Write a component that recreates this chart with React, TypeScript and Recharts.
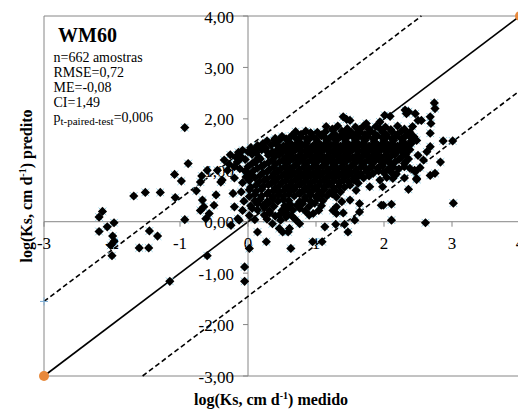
import { ScatterChart, Scatter, XAxis, YAxis, ReferenceLine, ReferenceDot } from 'recharts';

// axis ticks (crossing at the origin)
const xTicks = [-3, -2, -1, 0, 1, 2, 3, 4];
const xTickLabels = ['-3', '-2', '-1', '0', '1', '2', '3', '4'];
const yTicks = [4, 3, 2, 1, 0, -1, -2, -3];
const yTickLabels = ['4,00', '3,00', '2,00', '1,00', '0,00', '-1,00', '-2,00', '-3,00'];

// offset of the dashed confidence lines around the 1:1 line
const ciOffset = 1.45;

const leftOutliers: [number, number][] = [
    [-0.93, 1.83], [-0.88, 1.13], [-1.08, 0.92], [-0.98, 0.79], [-0.68, 0.89], [-0.70, 0.77],
    [-0.76, 0.60], [-1.68, 0.50], [-1.51, 0.57], [-1.29, 0.57], [-1.07, 0.47], [-2.14, 0.20],
    [-2.19, 0.09], [-1.97, -0.02], [-2.07, -0.10], [-2.19, -0.19], [-1.99, -0.28], [-1.97, -0.38],
    [-2.00, -0.66], [-1.45, -0.18], [-1.33, -0.28], [-1.60, -0.51], [-1.46, -0.51], [-0.93, 0.04],
    [-0.60, -0.66], [-1.15, -1.16], [-0.67, 0.42], [-0.65, 0.29], [-0.70, 0.22], [-0.57, 0.16],
    [-0.62, 0.06], [-0.50, 0.32], [-0.47, 0.52], [-0.35, 1.20], [-0.38, 0.81], [-0.30, 1.00],
    [-0.22, 0.55], [-0.20, 0.29], [-0.25, -0.07], [-0.15, 0.06], [-2.02, -0.46],
];

const lowOutliers: [number, number][] = [
    [-0.05, -0.88], [-0.05, -1.16], [0.02, -0.52], [0.14, -0.20], [0.27, -0.39], [0.63, -0.52],
    [0.95, -0.39], [1.09, -0.39], [0.51, -0.20], [0.59, -0.20], [1.13, -0.10], [1.29, -0.05],
    [1.42, -0.05], [1.47, -0.20], [1.57, 0.03], [1.64, 0.19], [2.11, 0.03], [2.61, -0.02],
    [3.02, 0.36], [1.99, 0.32], [2.11, 0.34], [0.36, -0.04], [0.46, 0.13], [0.56, 0.13],
    [0.76, -0.04], [1.30, 0.16], [1.40, 0.17], [-0.13, 0.03], [0.56, 0.09], [0.46, -0.13], [0.61, -0.13],
];

const rightOutliers: [number, number][] = [
    [2.74, 2.31], [2.75, 2.20], [2.87, 1.57], [3.01, 1.57], [2.83, 1.16], [2.75, 0.94],
    [2.68, 0.90], [2.48, 0.84], [2.36, 0.63], [2.68, 1.46], [2.68, 1.72], [2.69, 1.91],
    [2.68, 2.04], [2.55, 1.97], [2.46, 2.10], [2.36, 2.14], [2.63, 1.36], [2.58, 1.20],
    [2.53, 1.05], [2.46, 0.97],
];

const cloudEdges: [number, number][] = [
    [1.45, 1.99], [1.25, 1.78], [1.74, 1.91], [1.94, 1.94], [2.09, 2.05], [2.33, 2.10],
    [2.50, 1.97], [1.40, 2.04], [1.50, 1.97], [0.92, 1.73], [0.39, 1.59], [2.01, 2.07],
    [2.31, 2.17], [2.48, 1.58], [2.50, 1.29], [2.45, 1.00], [2.48, 0.82], [2.13, 0.84],
    [1.94, 0.81], [1.77, 1.02], [1.79, 0.68], [1.64, 0.35], [1.50, 0.42], [1.30, 0.29],
    [1.25, 0.22], [1.96, 0.32], [1.59, 0.61], [0.19, 1.46], [-0.18, 1.26], [0.00, 1.36],
    [0.09, 1.39], [-0.60, 1.00], [-0.45, 1.00], [-0.40, 0.77], [-0.20, 1.07], [-0.03, 0.87],
    [-0.13, 1.20], [0.11, 1.16], [0.26, 1.39],
];

const cloudCore: [number, number][] = [
    [1.15, 1.85], [1.32, 1.86], [1.58, 1.84], [1.70, 1.86], [1.88, 1.85], [2.02, 1.84], [2.20, 1.86], [2.42, 1.85],
    [0.70, 1.75], [0.85, 1.76], [1.02, 1.74], [1.14, 1.75], [1.38, 1.76], [1.52, 1.74], [1.64, 1.75], [1.80, 1.76],
    [1.98, 1.74], [2.12, 1.75], [2.26, 1.76], [2.38, 1.74],
    [0.50, 1.66], [0.64, 1.67], [0.78, 1.65], [0.94, 1.66], [1.08, 1.67], [1.22, 1.65], [1.36, 1.66], [1.48, 1.67],
    [1.62, 1.65], [1.76, 1.66], [1.90, 1.67], [2.04, 1.65], [2.18, 1.66], [2.32, 1.67], [2.44, 1.65],
    [0.28, 1.57], [0.46, 1.58], [0.60, 1.56], [0.74, 1.57], [0.88, 1.58], [1.02, 1.56], [1.16, 1.57], [1.30, 1.58],
    [1.44, 1.56], [1.58, 1.57], [1.72, 1.58], [1.86, 1.56], [2.00, 1.57], [2.14, 1.58], [2.28, 1.56], [2.40, 1.57],
    [0.14, 1.48], [0.34, 1.49], [0.52, 1.47], [0.66, 1.48], [0.80, 1.49], [0.95, 1.47], [1.08, 1.48], [1.22, 1.49],
    [1.36, 1.47], [1.50, 1.48], [1.64, 1.49], [1.78, 1.47], [1.92, 1.48], [2.06, 1.49], [2.20, 1.47], [2.34, 1.48],
    [-0.08, 1.39], [0.20, 1.40], [0.42, 1.38], [0.56, 1.39], [0.70, 1.40], [0.84, 1.38], [0.98, 1.39], [1.12, 1.40],
    [1.26, 1.38], [1.40, 1.39], [1.54, 1.40], [1.68, 1.38], [1.82, 1.39], [1.96, 1.40], [2.10, 1.38], [2.24, 1.39], [2.38, 1.40],
    [-0.26, 1.30], [0.06, 1.31], [0.30, 1.29], [0.46, 1.30], [0.62, 1.31], [0.76, 1.29], [0.90, 1.30], [1.04, 1.31],
    [1.18, 1.29], [1.32, 1.30], [1.46, 1.31], [1.60, 1.29], [1.74, 1.30], [1.88, 1.31], [2.02, 1.29], [2.16, 1.30], [2.32, 1.31],
    [-0.04, 1.21], [0.18, 1.22], [0.36, 1.20], [0.52, 1.21], [0.66, 1.22], [0.80, 1.20], [0.94, 1.21], [1.08, 1.22],
    [1.22, 1.20], [1.36, 1.21], [1.50, 1.22], [1.64, 1.20], [1.78, 1.21], [1.92, 1.22], [2.06, 1.20], [2.22, 1.21], [2.36, 1.22],
    [-0.28, 1.12], [0.06, 1.13], [0.24, 1.11], [0.40, 1.12], [0.56, 1.13], [0.70, 1.11], [0.84, 1.12], [0.98, 1.13],
    [1.12, 1.11], [1.26, 1.12], [1.40, 1.13], [1.54, 1.11], [1.68, 1.12], [1.82, 1.13], [1.96, 1.11], [2.10, 1.12], [2.30, 1.13],
    [-0.12, 1.03], [0.14, 1.04], [0.32, 1.02], [0.48, 1.03], [0.62, 1.04], [0.76, 1.02], [0.90, 1.03], [1.04, 1.04],
    [1.18, 1.02], [1.32, 1.03], [1.46, 1.04], [1.60, 1.02], [1.74, 1.03], [1.90, 1.04], [2.06, 1.02], [2.22, 1.03], [2.38, 1.04],
    [0.00, 0.94], [0.22, 0.95], [0.38, 0.93], [0.54, 0.94], [0.68, 0.95], [0.82, 0.93], [0.96, 0.94], [1.10, 0.95],
    [1.24, 0.93], [1.38, 0.94], [1.52, 0.95], [1.66, 0.93], [1.84, 0.94], [2.00, 0.95], [2.18, 0.93],
    [-0.20, 0.85], [0.10, 0.86], [0.28, 0.84], [0.44, 0.85], [0.58, 0.86], [0.72, 0.84], [0.86, 0.85], [1.00, 0.86],
    [1.14, 0.84], [1.28, 0.85], [1.42, 0.86], [1.56, 0.84], [1.70, 0.85], [2.04, 0.86], [2.30, 0.85],
    [-0.08, 0.76], [0.16, 0.77], [0.34, 0.75], [0.50, 0.76], [0.64, 0.77], [0.78, 0.75], [0.92, 0.76], [1.06, 0.77],
    [1.20, 0.75], [1.34, 0.76], [1.48, 0.77], [1.62, 0.75],
    [0.04, 0.67], [0.22, 0.68], [0.40, 0.66], [0.56, 0.67], [0.70, 0.68], [0.84, 0.66], [0.98, 0.67], [1.12, 0.68],
    [1.26, 0.66], [1.42, 0.67], [1.98, 0.68],
    [-0.10, 0.58], [0.12, 0.59], [0.30, 0.57], [0.46, 0.58], [0.62, 0.59], [0.76, 0.57], [0.90, 0.58], [1.04, 0.59],
    [1.20, 0.57], [1.36, 0.58],
    [0.02, 0.49], [0.20, 0.50], [0.36, 0.48], [0.52, 0.49], [0.68, 0.50], [0.84, 0.48], [1.00, 0.49], [1.16, 0.50], [1.30, 0.48],
    [-0.06, 0.40], [0.10, 0.41], [0.28, 0.39], [0.44, 0.40], [0.60, 0.41], [0.76, 0.39], [0.92, 0.40], [1.10, 0.41], [1.38, 0.39],
    [0.04, 0.31], [0.22, 0.32], [0.38, 0.30], [0.54, 0.31], [0.72, 0.32], [0.90, 0.30], [1.08, 0.31],
    [-0.08, 0.22], [0.14, 0.23], [0.32, 0.21], [0.50, 0.22], [0.66, 0.23], [0.84, 0.21], [1.04, 0.22],
    [0.02, 0.12], [0.24, 0.13], [0.40, 0.11], [0.64, 0.12], [0.90, 0.13],
    [0.10, 0.04], [0.28, 0.05], [0.48, 0.03], [0.70, 0.04],
];

// points lying between the rows above, where the cloud is solid black
const cloudFill: [number, number][] = [
    [1.24, 1.80], [1.46, 1.81], [1.64, 1.79], [1.78, 1.80], [1.94, 1.81], [2.10, 1.79], [2.30, 1.80],
    [0.78, 1.70], [0.93, 1.71], [1.08, 1.69], [1.28, 1.70], [1.44, 1.71], [1.58, 1.69], [1.72, 1.70], [1.86, 1.71],
    [2.04, 1.69], [2.20, 1.70], [2.36, 1.71],
    [0.40, 1.62], [0.56, 1.61], [0.70, 1.63], [0.86, 1.62], [1.00, 1.61], [1.14, 1.63], [1.28, 1.62], [1.42, 1.61],
    [1.56, 1.63], [1.70, 1.62], [1.84, 1.61], [1.98, 1.63], [2.12, 1.62], [2.26, 1.61], [2.40, 1.63],
    [0.22, 1.52], [0.40, 1.53], [0.58, 1.51], [0.72, 1.52], [0.86, 1.53], [1.00, 1.51], [1.14, 1.52], [1.28, 1.53],
    [1.42, 1.51], [1.56, 1.52], [1.70, 1.53], [1.84, 1.51], [1.98, 1.52], [2.12, 1.53], [2.26, 1.51], [2.40, 1.52],
    [0.04, 1.44], [0.26, 1.43], [0.46, 1.45], [0.60, 1.44], [0.74, 1.43], [0.88, 1.45], [1.02, 1.44], [1.16, 1.43],
    [1.30, 1.45], [1.44, 1.44], [1.58, 1.43], [1.72, 1.45], [1.86, 1.44], [2.00, 1.43], [2.14, 1.45], [2.28, 1.44],
    [-0.14, 1.35], [0.12, 1.34], [0.36, 1.36], [0.50, 1.35], [0.64, 1.34], [0.78, 1.36], [0.92, 1.35], [1.06, 1.34],
    [1.20, 1.36], [1.34, 1.35], [1.48, 1.34], [1.62, 1.36], [1.76, 1.35], [1.90, 1.34], [2.04, 1.36], [2.18, 1.35], [2.32, 1.34],
    [-0.10, 1.26], [0.16, 1.25], [0.40, 1.27], [0.56, 1.26], [0.70, 1.25], [0.84, 1.27], [0.98, 1.26], [1.12, 1.25],
    [1.26, 1.27], [1.40, 1.26], [1.54, 1.25], [1.68, 1.27], [1.82, 1.26], [1.96, 1.25], [2.10, 1.27], [2.26, 1.26],
    [-0.16, 1.16], [0.10, 1.17], [0.30, 1.15], [0.46, 1.16], [0.60, 1.17], [0.74, 1.15], [0.88, 1.16], [1.02, 1.17],
    [1.16, 1.15], [1.30, 1.16], [1.44, 1.17], [1.58, 1.15], [1.72, 1.16], [1.86, 1.17], [2.00, 1.15], [2.16, 1.16], [2.32, 1.17],
    [0.00, 1.07], [0.20, 1.08], [0.38, 1.06], [0.54, 1.07], [0.68, 1.08], [0.82, 1.06], [0.96, 1.07], [1.10, 1.08],
    [1.24, 1.06], [1.38, 1.07], [1.52, 1.08], [1.66, 1.06], [1.82, 1.07], [1.98, 1.08], [2.14, 1.06], [2.30, 1.07],
    [-0.04, 0.98], [0.08, 0.99], [0.28, 0.97], [0.44, 0.98], [0.60, 0.99], [0.74, 0.97], [0.88, 0.98], [1.02, 0.99],
    [1.16, 0.97], [1.30, 0.98], [1.44, 0.99], [1.58, 0.97], [1.74, 0.98], [1.92, 0.99], [2.10, 0.97],
    [0.04, 0.89], [0.18, 0.90], [0.36, 0.88], [0.50, 0.89], [0.64, 0.90], [0.78, 0.88], [0.92, 0.89], [1.06, 0.90],
    [1.20, 0.88], [1.34, 0.89], [1.48, 0.90], [1.62, 0.88], [1.78, 0.89], [2.16, 0.90],
    [0.02, 0.80], [0.24, 0.81], [0.40, 0.79], [0.56, 0.80], [0.70, 0.81], [0.84, 0.79], [0.98, 0.80], [1.12, 0.81],
    [1.26, 0.79], [1.40, 0.80], [1.56, 0.81],
    [0.12, 0.71], [0.30, 0.72], [0.46, 0.70], [0.62, 0.71], [0.76, 0.72], [0.90, 0.70], [1.04, 0.71], [1.18, 0.72],
    [1.34, 0.70], [1.50, 0.71],
    [0.02, 0.62], [0.20, 0.63], [0.38, 0.61], [0.54, 0.62], [0.68, 0.63], [0.82, 0.61], [0.96, 0.62], [1.12, 0.63], [1.28, 0.61],
    [0.10, 0.53], [0.28, 0.54], [0.44, 0.52], [0.60, 0.53], [0.76, 0.54], [0.92, 0.52], [1.08, 0.53], [1.24, 0.54],
    [0.18, 0.44], [0.36, 0.45], [0.52, 0.43], [0.84, 0.44], [1.02, 0.45],
    [0.14, 0.35], [0.30, 0.36], [0.62, 0.34], [0.80, 0.35], [0.98, 0.36],
    [0.06, 0.26], [0.24, 0.27], [0.58, 0.25], [0.76, 0.26],
    [0.32, 0.17], [0.56, 0.18], [0.96, 0.16],
];

const allPoints = [...cloudCore, ...cloudFill, ...cloudEdges, ...leftOutliers, ...lowOutliers, ...rightOutliers]
    .map(([x, y]) => ({ x, y }));

// tick positions on the axes that cross at the origin
const xTickPoints = xTicks.map((t, i) => ({ x: t, y: 0, label: xTickLabels[i] }));
const yTickPoints = yTicks.map((t, i) => ({ x: 0, y: t, label: yTickLabels[i] }));

const AXIS_GRAY = '#868686';
const SERIF = "'Liberation Serif', 'Times New Roman', serif";

// light blue cross drawn under each diamond (Excel-style marker edge)
function MarkerCross(props: any) {
    const { cx, cy } = props;
    if (cx == null || cy == null) return null;
    const a = 3.8;
    return (
        <path
            d={`M${cx - a},${cy - a}L${cx + a},${cy + a}M${cx - a},${cy + a}L${cx + a},${cy - a}`}
            stroke="#8ccbe0"
            strokeWidth={1}
        />
    );
}

function Diamond(props: any) {
    const { cx, cy } = props;
    if (cx == null || cy == null) return null;
    const d = 4.6;
    return <path d={`M${cx},${cy - d}L${cx + d},${cy}L${cx},${cy + d}L${cx - d},${cy}Z`} fill="#000" />;
}

function XTick(props: any) {
    const { cx, cy, payload } = props;
    if (cx == null || cy == null) return null;
    return (
        <g>
            <line x1={cx} x2={cx} y1={cy} y2={cy + 5} stroke={AXIS_GRAY} />
            <text x={cx} y={cy + 27} textAnchor="middle" fontFamily={SERIF} fontSize={17} fill="#000">
                {payload?.label}
            </text>
        </g>
    );
}

function YTick(props: any) {
    const { cx, cy, payload } = props;
    if (cx == null || cy == null) return null;
    return (
        <g>
            <line x1={cx - 5} x2={cx} y1={cy} y2={cy} stroke={AXIS_GRAY} />
            <text x={cx - 14} y={cy + 6.5} textAnchor="end" fontFamily={SERIF} fontSize={17} fill="#000">
                {payload?.label}
            </text>
        </g>
    );
}

function BluePlus(props: any) {
    const { cx, cy } = props;
    if (cx == null || cy == null) return null;
    return (
        <path d={`M${cx - 4},${cy}L${cx + 4},${cy}M${cx},${cy - 4}L${cx},${cy + 4}`} stroke="#7fb0d8" strokeWidth={1} />
    );
}

export default function App() {
    return (
        <div style={{ position: 'absolute', left: 0, top: 0, width: 518, height: 417, overflow: 'hidden', background: '#fff' }}>
            <ScatterChart width={521} height={417} margin={{ top: 16, right: 1, bottom: 41, left: 44 }}>
                <XAxis type="number" dataKey="x" domain={[-3, 4]} hide />
                <YAxis type="number" dataKey="y" domain={[-3, 4]} hide />

                {/* plot border */}
                <ReferenceLine y={4} stroke={AXIS_GRAY} strokeWidth={1} />
                <ReferenceLine y={-3} stroke={AXIS_GRAY} strokeWidth={1} />
                <ReferenceLine x={-3} stroke={AXIS_GRAY} strokeWidth={1} />
                {/* axes through the origin */}
                <ReferenceLine y={0} stroke={AXIS_GRAY} strokeWidth={1} />
                <ReferenceLine x={0} stroke={AXIS_GRAY} strokeWidth={1} />

                {/* 1:1 line and confidence band */}
                <ReferenceLine segment={[{ x: -3, y: -3 }, { x: 4, y: 4 }]} stroke="#000" strokeWidth={1.6} />
                <ReferenceLine
                    segment={[{ x: -3, y: -3 + ciOffset }, { x: 4 - ciOffset, y: 4 }]}
                    stroke="#000"
                    strokeWidth={1.6}
                    strokeDasharray="5 3"
                />
                <ReferenceLine
                    segment={[{ x: -3 + ciOffset, y: -3 }, { x: 4, y: 4 - ciOffset }]}
                    stroke="#000"
                    strokeWidth={1.6}
                    strokeDasharray="5 3"
                />

                {/* tick labels first so the points cover them, as in the original */}
                <Scatter data={xTickPoints} shape={XTick} isAnimationActive={false} />
                <Scatter data={yTickPoints} shape={YTick} isAnimationActive={false} />

                <Scatter data={allPoints} shape={MarkerCross} isAnimationActive={false} />
                <Scatter data={allPoints} shape={Diamond} isAnimationActive={false} />

                <ReferenceDot x={-3} y={-3 + ciOffset} r={4} shape={BluePlus} />
                <ReferenceDot x={-3} y={-3} r={5} fill="#e8893c" stroke="none" />
                <ReferenceDot x={4} y={4} r={5} fill="#e8893c" stroke="none" />
            </ScatterChart>

            <svg width={518} height={417} style={{ position: 'absolute', left: 0, top: 0, pointerEvents: 'none' }}>
                <g fontFamily={SERIF} fill="#000">
                    <text x={58} y={41.5} fontSize={20} fontWeight="bold">WM60</text>
                    <text x={53.5} y={61.5} fontSize={14}>n=662 amostras</text>
                    <text x={53.5} y={76.5} fontSize={14}>RMSE=0,72</text>
                    <text x={53.5} y={91.5} fontSize={14}>ME=-0,08</text>
                    <text x={53.5} y={106.5} fontSize={14}>CI=1,49</text>
                    <text x={53.5} y={121.5} fontSize={14}>
                        p<tspan fontSize={11} dy={3}>t-paired-test</tspan><tspan dy={-3}>=0,006</tspan>
                    </text>

                    <text x={271} y={405} fontSize={16} fontWeight="bold" textAnchor="middle">
                        log(Ks, cm d<tspan fontSize={10} dy={-6}>-1</tspan><tspan dy={6}>) medido</tspan>
                    </text>
                    <text
                        x={0}
                        y={0}
                        transform="translate(32,186) rotate(-90)"
                        fontSize={16}
                        fontWeight="bold"
                        textAnchor="middle"
                    >
                        log(Ks, cm d<tspan fontSize={10} dy={-6}>-1</tspan><tspan dy={6}>) predito</tspan>
                    </text>
                </g>
            </svg>
        </div>
    );
}
